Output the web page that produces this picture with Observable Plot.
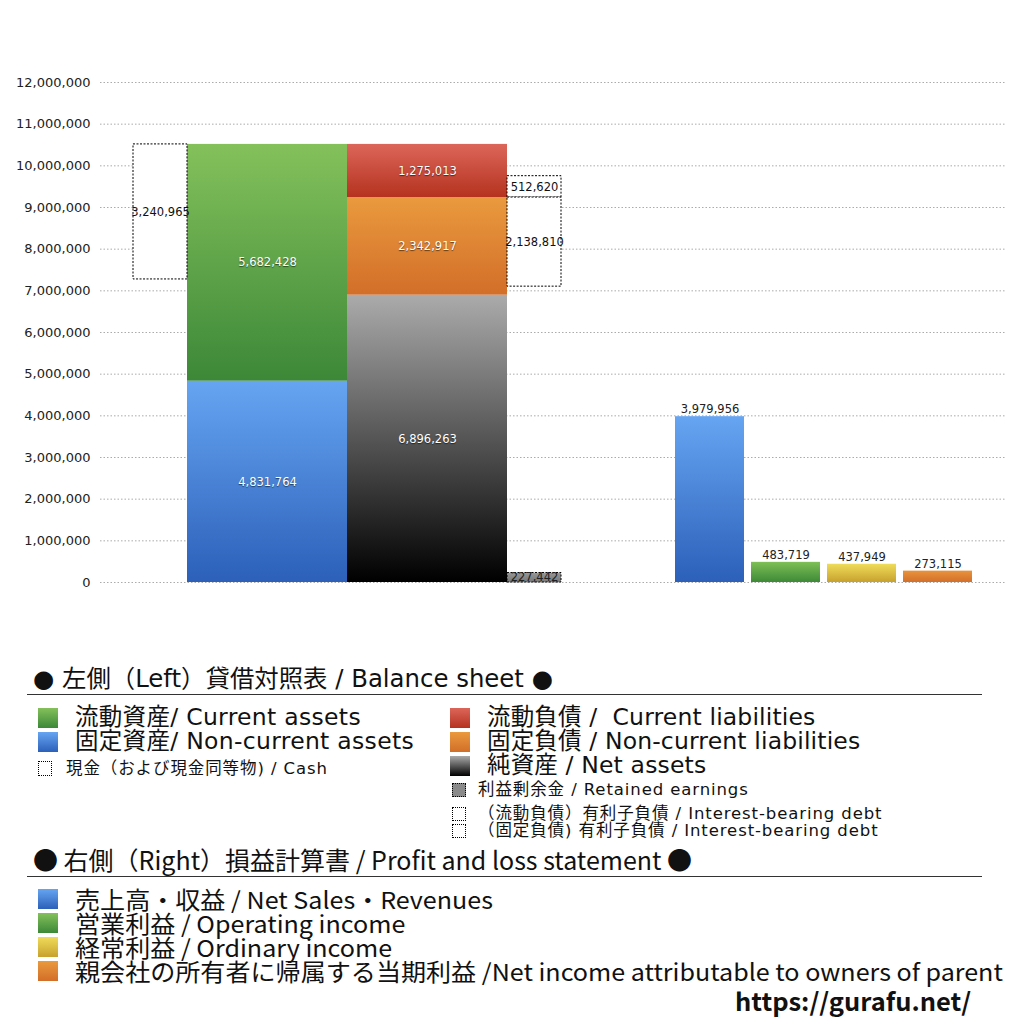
<!DOCTYPE html>
<html><head><meta charset="utf-8">
<script src="https://cdn.jsdelivr.net/npm/d3@7"></script>
<script src="https://cdn.jsdelivr.net/npm/@observablehq/plot@0.6"></script>
<style>
body{margin:0;background:#fff;font-family:"DejaVu Sans","Noto Sans CJK JP",sans-serif;}
#wrap{position:relative;width:1024px;height:1024px;overflow:hidden;}
g[fill="white"] text{text-shadow:0 1px 1px rgba(0,0,0,0.55);}
.lg{position:absolute;white-space:pre;color:#111;line-height:1;}
.cj{font-family:"Noto Sans CJK JP",sans-serif;}
.sw{position:absolute;}
.hr{position:absolute;height:1px;background:#333;}
</style></head><body>
<div id="wrap"></div>
<script>
// ---- data ----
const assetCategories = ["固定資産", "流動資産"];           // stacked bottom → top
const assetValues = [4831764, 5682428];
const liabCategories = ["純資産", "固定負債", "流動負債"];   // stacked bottom → top
const liabValues = [6896263, 2342917, 1275013];
const cashValue = 3240965;
const retainedValue = 227442;
const debtCurrentValue = 512620;
const debtNonCurrentValue = 2138810;
const plCategories = ["売上高・収益", "営業利益", "経常利益", "親会社の所有者に帰属する当期利益"];
const plValues = [3979956, 483719, 437949, 273115];
const yTickValues = [0,1000000,2000000,3000000,4000000,5000000,6000000,7000000,8000000,9000000,10000000,11000000,12000000];

// ---- layout (horizontal slots, not data) ----
const slot = {cash:[33,87], assets:[87,247], liab:[247,407], debt:[407,461]};
const plSlots = [[575,644],[651,720],[727,796],[803,872]];
const grad = {
  "固定資産":"gBlue","流動資産":"gGreen","純資産":"gNet","固定負債":"gOrange","流動負債":"gRed"
};
const plGrad = ["gBlue","gGreen2","gYellow","gOrange2"];

// build rows
const rows = [];
let acc = 0;
assetCategories.forEach((c,i)=>{rows.push({cat:c,x1:slot.assets[0],x2:slot.assets[1],y1:acc,y2:acc+assetValues[i],v:assetValues[i]}); acc+=assetValues[i];});
const assetTop = acc;
acc = 0;
liabCategories.forEach((c,i)=>{rows.push({cat:c,x1:slot.liab[0],x2:slot.liab[1],y1:acc,y2:acc+liabValues[i],v:liabValues[i]}); acc+=liabValues[i];});
const ncTop = liabValues[0]+liabValues[1];

const boxes = [
  {x1:slot.cash[0],x2:slot.cash[1],y1:assetTop-cashValue,y2:assetTop,v:cashValue},
  {x1:slot.debt[0],x2:slot.debt[1],y1:ncTop,y2:ncTop+debtCurrentValue,v:debtCurrentValue},
  {x1:slot.debt[0],x2:slot.debt[1],y1:ncTop-debtNonCurrentValue,y2:ncTop,v:debtNonCurrentValue}
];
const retained = [{x1:slot.debt[0],x2:slot.debt[1],y1:0,y2:retainedValue,v:retainedValue}];
const plRows = plCategories.map((c,i)=>({cat:c,x1:plSlots[i][0],x2:plSlots[i][1],y1:0,y2:plValues[i],v:plValues[i],g:plGrad[i]}));

const fmt = d3.format(",");
const font = "'DejaVu Sans','Noto Sans CJK JP',sans-serif";

const plot = Plot.plot({
  width:1024, height:620,
  marginTop:82, marginBottom:38, marginLeft:100, marginRight:19,
  style:{fontFamily:font, fontSize:"13px", background:"white", color:"#222"},
  x:{type:"linear", domain:[0,905], axis:null},
  y:{domain:[0,12000000], ticks:yTickValues, tickFormat:fmt, tickSize:0, tickPadding:10, label:null},
  marks:[
    Plot.gridY(yTickValues,{stroke:"#888", strokeOpacity:0.7, strokeDasharray:"1.5,2"}),
    Plot.rect(rows,{x1:"x1",x2:"x2",y1:"y1",y2:"y2",fill:d=>`url(#${grad[d.cat]})`}),
    Plot.rect(boxes,{x1:"x1",x2:"x2",y1:"y1",y2:"y2",fill:"white",stroke:"black",strokeWidth:1,strokeDasharray:"2,1.5"}),
    Plot.rect(retained,{x1:"x1",x2:"x2",y1:"y1",y2:"y2",fill:"url(#gGray)",stroke:"black",strokeWidth:1,strokeDasharray:"2,1.5"}),
    Plot.rect(plRows,{x1:"x1",x2:"x2",y1:"y1",y2:"y2",fill:d=>`url(#${d.g})`}),
    Plot.text(rows,{x:d=>(d.x1+d.x2)/2,y:d=>(d.y1+d.y2)/2,text:d=>fmt(d.v),fill:"white",fontSize:11.5}),
    Plot.text(boxes,{x:d=>(d.x1+d.x2)/2,y:d=>(d.y1+d.y2)/2,text:d=>fmt(d.v),fill:"#111",fontSize:11.5}),
    Plot.text(retained,{x:d=>(d.x1+d.x2)/2,y:d=>(d.y1+d.y2)/2,text:d=>fmt(d.v),fill:"#222",fontSize:11.5}),
    Plot.text(plRows,{x:d=>(d.x1+d.x2)/2,y:"y2",text:d=>fmt(d.v),fill:"#222",fontSize:11.5,dy:-7})
  ]
});

// gradients
const defs = `
<linearGradient id="gBlue" x1="0" y1="0" x2="0" y2="1"><stop offset="0" stop-color="#66a5f2"/><stop offset="1" stop-color="#2c60b9"/></linearGradient>
<linearGradient id="gGreen" x1="0" y1="0" x2="0" y2="1"><stop offset="0" stop-color="#84c15b"/><stop offset="1" stop-color="#3c8838"/></linearGradient>
<linearGradient id="gGreen2" x1="0" y1="0" x2="0" y2="1"><stop offset="0" stop-color="#7fbf56"/><stop offset="1" stop-color="#3d8a37"/></linearGradient>
<linearGradient id="gRed" x1="0" y1="0" x2="0" y2="1"><stop offset="0" stop-color="#dc665a"/><stop offset="1" stop-color="#b5321f"/></linearGradient>
<linearGradient id="gOrange" x1="0" y1="0" x2="0" y2="1"><stop offset="0" stop-color="#ea9a3e"/><stop offset="1" stop-color="#d26e29"/></linearGradient>
<linearGradient id="gOrange2" x1="0" y1="0" x2="0" y2="1"><stop offset="0" stop-color="#e9933c"/><stop offset="1" stop-color="#d36f2a"/></linearGradient>
<linearGradient id="gYellow" x1="0" y1="0" x2="0" y2="1"><stop offset="0" stop-color="#efdc5a"/><stop offset="1" stop-color="#c8a12e"/></linearGradient>
<linearGradient id="gNet" x1="0" y1="0" x2="0" y2="1"><stop offset="0" stop-color="#ababab"/><stop offset="1" stop-color="#000"/></linearGradient>
<linearGradient id="gGray" x1="0" y1="0" x2="0" y2="1"><stop offset="0" stop-color="#999"/><stop offset="1" stop-color="#777"/></linearGradient>`;
const d = document.createElementNS("http://www.w3.org/2000/svg","defs");
d.innerHTML = defs;
plot.insertBefore(d, plot.firstChild);
plot.style.position="absolute"; plot.style.left="0"; plot.style.top="0";
const wrap = document.getElementById("wrap");
wrap.appendChild(plot);

// ---- legend (HTML) ----
const G = {
  blue:"linear-gradient(#66a5f2,#2c60b9)", green:"linear-gradient(#84c15b,#3c8838)",
  red:"linear-gradient(#dc665a,#b5321f)", orange:"linear-gradient(#ea9a3e,#d26e29)",
  net:"linear-gradient(#ababab,#000)", yellow:"linear-gradient(#efdc5a,#c8a12e)",
  gray:"#8a8a8a"
};
function txt(x,y,s,size,extra,cls){const e=document.createElement("div");e.className="lg"+(cls?" "+cls:"");e.style.left=x+"px";e.style.top=y+"px";e.style.fontSize=size+"px";e.textContent=s;if(extra)Object.assign(e.style,extra);wrap.appendChild(e);return e;}
function sw(x,y,w,h,bg,dotted){const e=document.createElement("div");e.className="sw";Object.assign(e.style,{left:x+"px",top:y+"px",width:w+"px",height:h+"px",background:bg||"transparent"});if(dotted){e.style.border="1px dotted #000";e.style.boxSizing="border-box";}wrap.appendChild(e);}
function hr(x,y,w){const e=document.createElement("div");e.className="hr";Object.assign(e.style,{left:x+"px",top:y+"px",width:w+"px"});wrap.appendChild(e);}

const sm = {letterSpacing:"0.9px"};
txt(33,667,"● 左側（Left）貸借対照表 / Balance sheet ●",24.4);
hr(27,694,955);
sw(38,708,20,20,G.green); txt(75,706,"流動資産/ Current assets",23.5,{letterSpacing:"0.3px"});
sw(38,732,20,20,G.blue);  txt(75,730,"固定資産/ Non-current assets",23.5,{letterSpacing:"0.3px"});
sw(38,761,14,15,null,true); txt(66,761,"現金（および現金同等物) / Cash",16.5,sm);

sw(450,708,20,20,G.red);    txt(487,706,"流動負債 /  Current liabilities",23.5,{letterSpacing:"0.15px"});
sw(450,732,20,20,G.orange); txt(487,730,"固定負債 / Non-current liabilities",23.5,{letterSpacing:"0.15px"});
sw(450,756,20,20,G.net);    txt(487,754,"純資産 / Net assets",23.5,{letterSpacing:"0.15px"});
sw(452,783,14,14,G.gray,true); txt(478,782,"利益剰余金 / Retained earnings",16.5,sm);
sw(452,807,14,14,null,true); txt(478,806,"（流動負債）有利子負債 / Interest-bearing debt",16.5,sm);
sw(452,824,14,14,null,true); txt(478,823,"（固定負債) 有利子負債 / Interest-bearing debt",16.5,sm);

txt(33,847,"● 右側（Right）損益計算書 / Profit and loss statement ●",25,null,"cj");
hr(27,876,955);
const cond = {transform:"scaleX(1.067)",transformOrigin:"0 0"};
sw(38,889,20,20,G.blue);   txt(75,887.5,"売上高・収益 / Net Sales・Revenues",23.5,cond,"cj");
sw(38,913,20,20,G.green);  txt(75,911.5,"営業利益 / Operating income",23.5,cond,"cj");
sw(38,937,20,20,G.yellow); txt(75,935.5,"経常利益 / Ordinary income",23.5,cond,"cj");
sw(38,961,20,20,G.orange); txt(75,959.5,"親会社の所有者に帰属する当期利益 /Net income attributable to owners of parent",23.5,cond,"cj");
txt(735,988,"https://gurafu.net/",25,{fontWeight:"bold",transform:"scaleX(1.02)",transformOrigin:"0 0"},"cj");
</script>
</body></html>
